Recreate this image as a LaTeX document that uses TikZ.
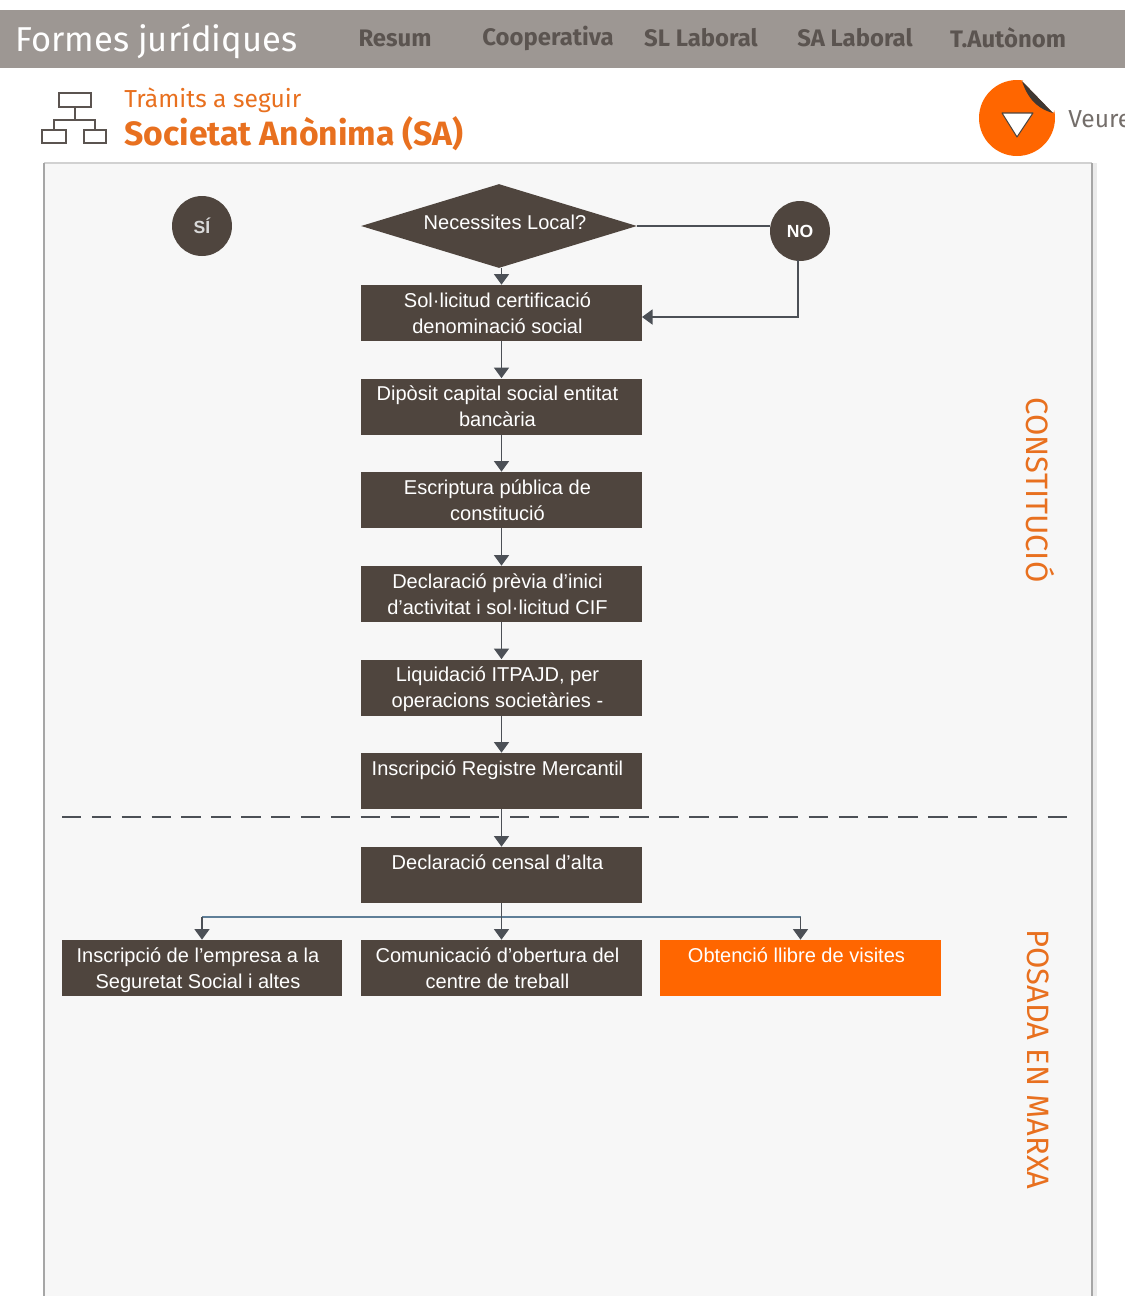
\documentclass[tikz,border=0pt]{standalone}
\usepackage{fontspec}
\usepackage{tikz}
\usetikzlibrary{shapes.geometric,arrows.meta}
\setmainfont{Liberation Sans}
\newfontfamily\headfont{Fira Sans}

\definecolor{barbrown}{HTML}{9D9793}
\definecolor{boxbrown}{HTML}{4F453E}
\definecolor{menugrey}{HTML}{5B5450}
\definecolor{titleorange}{HTML}{E8701F}
\definecolor{boxorange}{HTML}{FF6600}
\definecolor{panelgrey}{HTML}{F7F7F7}
\definecolor{flowline}{HTML}{4C5056}
\definecolor{splitline}{HTML}{5F7F98}

\newcommand{\steplines}[2]{\kern-4.6pt\raisebox{-1.15pt}[\height][\depth]{\begin{tabular}{@{}c@{}}#1\\#2\strut\end{tabular}}}

\tikzset{
  stepbox/.style={fill=boxbrown,text=white,minimum width=5.62cm,minimum height=1.12cm,inner sep=0pt,
    font=\fontsize{11.4}{14.8}\selectfont},
  answer/.style={circle,fill=boxbrown,minimum size=1.2cm,inner sep=0pt,font=\fontsize{10}{12}\selectfont\bfseries},
  flow/.style={draw=flowline,line width=0.9pt,-{Triangle[length=6pt,width=8.5pt]}},
  menuitem/.style={text=menugrey,inner sep=0pt,font=\fontsize{13.6}{16}\selectfont\headfont\bfseries},
  sidelabel/.style={text=titleorange,rotate=-90,inner sep=0pt,font=\fontsize{17.6}{20}\selectfont\headfont},
}

\begin{document}
\begin{tikzpicture}[x=0.02cm,y=-0.02cm]
      \useasboundingbox (0,0) rectangle (1125,1296);

      \fill [barbrown] (0,10) rectangle (1125,68);
      \node (title) [anchor=west,text=white,inner sep=0pt,font=\fontsize{19.65}{22}\selectfont\headfont] at (15,41) {Formes jurídiques};
      \node (resum) [menuitem] at (395,38) {Resum};
      \node (coop) [menuitem] at (548,38) {Cooperativa};
      \node (sllab) [menuitem] at (701,38) {SL Laboral};
      \node (salab) [menuitem] at (855,38) {SA Laboral};
      \node (auton) [menuitem] at (1008,38) {T.Autònom};

      \draw [menugrey,line width=1.2pt] (59,93) rectangle (91,107);
      \draw [menugrey,line width=1.2pt] (42,130) rectangle (66,143);
      \draw [menugrey,line width=1.2pt] (84,130) rectangle (106,143);
      \draw [menugrey,line width=1.2pt] (75,107) to (75,120);
      \draw [menugrey,line width=1.2pt] (54,130) to (54,120) to (95,120) to (95,130);

      \node (tramits) [anchor=west,text=titleorange,inner sep=0pt,font=\fontsize{14}{16}\selectfont\headfont] at (124,100) {Tràmits a seguir};
      \node (societat) [anchor=west,text=titleorange,inner sep=0pt,font=\fontsize{19.2}{21}\selectfont\headfont\bfseries] at (124,134) {Societat Anònima (SA)};

      \fill [boxorange] (1017,118) circle [radius=38];
      \fill [white] (1022,81) to (1053,113) to (1060,100) to (1045,70) to cycle;
      \fill [boxbrown!80!black] (1022,81) to (1053,113) .. controls (1042,110) and (1029,103) .. (1022,81);
      \fill [white,draw=boxbrown,line width=0.6pt,line join=round] (1002,113) to (1033,113) to (1017,137) to cycle;
      \node (veure) [anchor=west,text=menugrey!85,inner sep=0pt,font=\fontsize{14}{16}\selectfont\headfont] at (1068,119) {Veure};

      \draw [black!8,line width=3pt] (1094,163) to (1094,1296);
      \fill [panelgrey] (44,163) rectangle (1092,1296);
      \draw [black!18,line width=0.9pt] (44,163) to (1092,163);
      \draw [black!35,line width=0.9pt] (44,163) to (44,1296);
      \draw [black!35,line width=0.9pt] (1092,163) to (1092,1296);

      \node (si) [answer,text=white!85!black] at (202,226) {SÍ};
      \node (local) [diamond,fill=boxbrown,text=white,minimum width=5.52cm,minimum height=1.68cm,aspect=3.3,inner sep=0pt,
        font=\fontsize{11.4}{14.8}\selectfont] at (499,226) {\kern6.8pt\raisebox{4.6pt}{Necessites Local?}};
      \node (no) [answer,text=white] at (800,231) {NO};

      \node (sol) [stepbox] at (501.5,313) {\steplines{Sol·licitud certificació}{denominació social}};
      \node (diposit) [stepbox] at (501.5,406.5) {\steplines{Dipòsit capital social entitat}{bancària}};
      \node (escriptura) [stepbox] at (501.5,500) {\steplines{Escriptura pública de}{constitució}};
      \node (declaracio) [stepbox] at (501.5,594) {\steplines{Declaració prèvia d'inici}{d'activitat i sol·licitud CIF}};
      \node (liquidacio) [stepbox] at (501.5,687.5) {\steplines{Liquidació ITPAJD, per}{operacions societàries -}};
      \node (registre) [stepbox] at (501.5,781) {\steplines{Inscripció Registre Mercantil}{}};
      \node (censal) [stepbox] at (501.5,875) {\steplines{Declaració censal d'alta}{}};
      \node (seguretat) [stepbox] at (202,968) {\steplines{Inscripció de l'empresa a la}{Seguretat Social i altes}};
      \node (obertura) [stepbox] at (501.5,968) {\steplines{Comunicació d'obertura del}{centre de treball}};
      \node (visites) [stepbox,fill=boxorange] at (800.5,968) {\steplines{Obtenció llibre de visites}{}};

      \draw [flow] (sol.north |- local.south) to (sol.north);
      \draw [flow] (sol) to (diposit);
      \draw [flow] (diposit) to (escriptura);
      \draw [flow] (escriptura) to (declaracio);
      \draw [flow] (declaracio) to (liquidacio);
      \draw [flow] (liquidacio) to (registre);
      \draw [flow] (registre) to (censal);

      \draw [draw=flowline,line width=0.9pt] (local.east) to (no.west |- local.east);
      \coordinate (nodrop) at (798,260);
      \coordinate (soldock) at (642,317);
      \draw [flow,line width=1.1pt] (nodrop) |- (soldock);

      \coordinate (split) at (501.5,917);
      \draw [draw=splitline,line width=0.9pt] (seguretat.north |- split) to (visites.north |- split);
      \draw [flow] (censal) to (obertura);
      \draw [flow] (seguretat.north |- split) to (seguretat.north);
      \draw [flow] (visites.north |- split) to (visites.north);

      \coordinate (dashstart) at (62,817);
      \coordinate (dashend) at (1068,817);
      \draw [flowline,line width=0.9pt,dash pattern=on 11pt off 6pt] (dashstart) to (dashend);

      \node (constitucio) [sidelabel] at (1040,490) {CONSTITUCIÓ};
      \node (marxa) [sidelabel] at (1038,1059.5) {POSADA EN MARXA};
    \end{tikzpicture}
\end{document}
